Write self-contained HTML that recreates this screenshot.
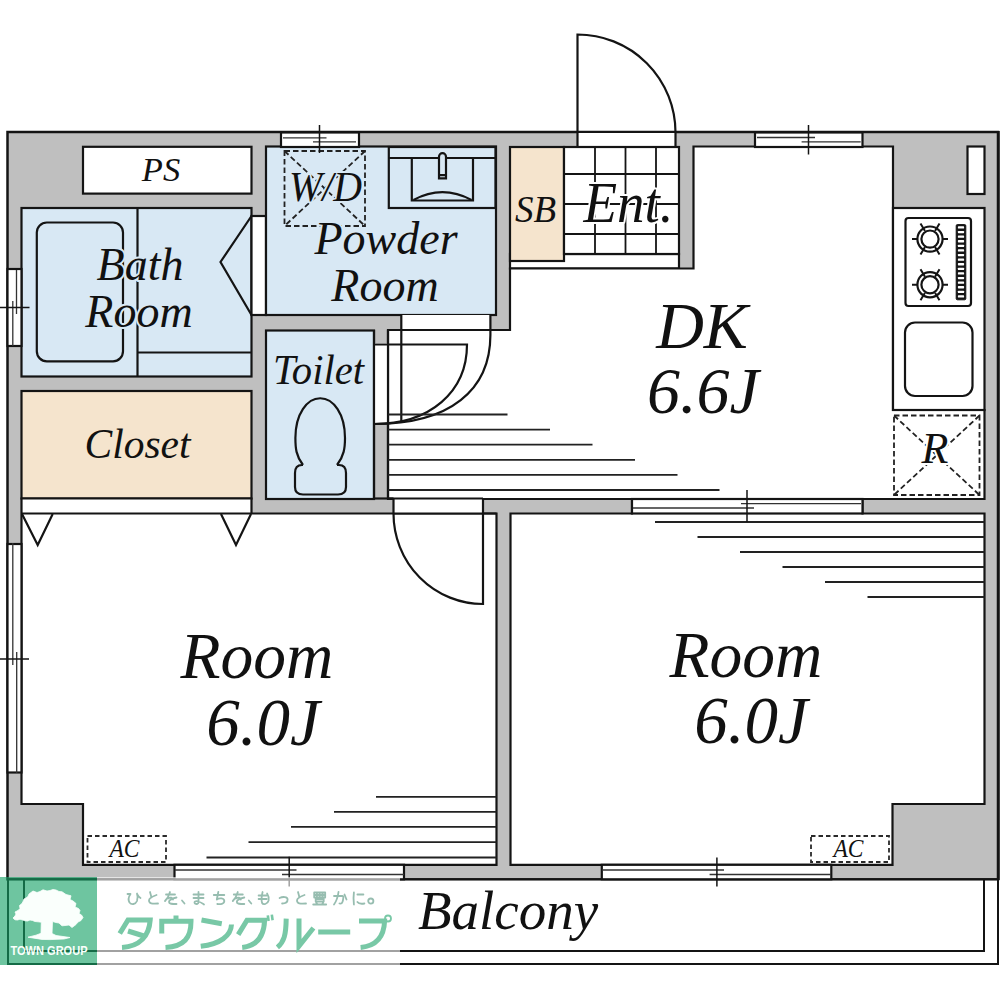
<!DOCTYPE html>
<html><head><meta charset="utf-8">
<style>
html,body{margin:0;padding:0;background:#fff;width:1000px;height:999px;overflow:hidden}
svg{display:block}
text{font-family:"Liberation Serif",serif;font-style:italic;fill:#111}
</style></head><body>
<svg width="1000" height="999" viewBox="0 0 1000 999">
<g id="plan" stroke="#141414" stroke-width="2.2" fill="none" stroke-linejoin="miter">
<!-- outer building -->
<rect x="7.5" y="132" width="990.5" height="747.3" fill="#bfbfbf" stroke-width="2.5"/>
<line x1="998.5" y1="131" x2="998.5" y2="880" stroke-width="2.5"/>
<!-- top door -->
<rect x="577" y="132" width="98" height="15" fill="#fff" stroke="none"/>
<line x1="577" y1="132" x2="675" y2="132"/>
<path d="M577.5 147 V34.5 A98 98 0 0 1 675.5 132.5 V147"/>
<!-- PS -->
<rect x="83" y="146.8" width="168.5" height="46.8" fill="#fff"/>
<!-- Bath -->
<rect x="21.5" y="208" width="230" height="168.5" fill="#d8e8f4"/>
<rect x="36.8" y="222.5" width="86.2" height="138.8" rx="10" fill="none"/>
<line x1="137.5" y1="208" x2="137.5" y2="376.5"/>
<line x1="137.5" y1="352.5" x2="251.5" y2="352.5"/>
<rect x="251.5" y="216" width="14.5" height="99" fill="#fff"/>
<path d="M251.5 216 L220.5 262 L251.5 315"/>
<!-- Closet -->
<rect x="21.5" y="391" width="230" height="107.5" fill="#f5e4cd"/>
<!-- Powder -->
<rect x="266" y="146.5" width="230" height="168.5" fill="#d8e8f4"/>
<rect x="388.8" y="147" width="106.7" height="61"/>
<line x1="388.8" y1="158" x2="495.5" y2="158"/>
<path d="M411.8 158 V200.5 H473 V158"/>
<path d="M413.5 200 Q442.4 184.4 471.5 200"/>
<path d="M439 178.4 V156.7 A3.5 3.5 0 0 1 446 156.7 V178.4 Z M439 175.2 H446" fill="#d8e8f4"/>
<!-- Toilet -->
<rect x="266" y="330.5" width="108" height="168.5" fill="#d8e8f4"/>
<path d="M303 465 C296 456 295.4 448 295.4 438 C295.4 414 307 398.25 320.2 398.25 C333.5 398.25 345 414 345 438 C345 448 344 456 337 465"/>
<path d="M303 465 H302 C297.5 465 295 468 295 473 V487 C295 492 298 494.5 303 494.5 H338 C343 494.5 346 492 346 487 V473 C346 468 343.5 465 339 465 H337"/>
<rect x="510" y="254" width="169" height="14.5" fill="#fff"/>
<!-- SB -->
<rect x="510" y="147" width="54" height="114" fill="#f5e4cd"/>
<!-- Ent tiles -->
<rect x="564" y="147" width="115" height="107" fill="#fff"/>
<path d="M595 147 V254 M625.5 147 V254 M656 147 V254 M564 174 H679 M564 204 H679 M564 234 H679" stroke-width="1.8"/>
<!-- DK -->
<path d="M388 330 H510 V268.5 H693.5 V146.5 H893 V410 H984.5 V499 H388 Z" fill="#fff"/>
<!-- powder/dk door opening -->
<rect x="401" y="315" width="89" height="15" fill="#fff" stroke="none"/>
<rect x="374" y="343" width="14" height="81" fill="#fff" stroke="none"/>
<line x1="388" y1="330" x2="510" y2="330"/>
<line x1="374" y1="330" x2="374" y2="499"/>
<line x1="388" y1="330" x2="388" y2="499"/>
<line x1="401.3" y1="315" x2="401.3" y2="421"/>
<path d="M374 344.5 H467 C467 392 430 424 374 424"/>
<path d="M490.4 315 V335 C490.4 390 450 424 374 424"/>
<!-- Kitchen -->
<rect x="893" y="208" width="91.5" height="202" fill="#fff"/>
<rect x="905.5" y="218" width="65.5" height="88" rx="3"/>
<rect x="956.2" y="224.6" width="9.6" height="75.2" rx="1.2" fill="#141414" stroke-width="1"/>
<g fill="#fff" stroke="none"><rect x="957.9" y="226.30" width="6.2" height="2.3" rx="0.6"/><rect x="957.9" y="230.90" width="6.2" height="2.3" rx="0.6"/><rect x="957.9" y="235.50" width="6.2" height="2.3" rx="0.6"/><rect x="957.9" y="240.10" width="6.2" height="2.3" rx="0.6"/><rect x="957.9" y="244.70" width="6.2" height="2.3" rx="0.6"/><rect x="957.9" y="249.30" width="6.2" height="2.3" rx="0.6"/><rect x="957.9" y="253.90" width="6.2" height="2.3" rx="0.6"/><rect x="957.9" y="258.50" width="6.2" height="2.3" rx="0.6"/><rect x="957.9" y="263.10" width="6.2" height="2.3" rx="0.6"/><rect x="957.9" y="267.70" width="6.2" height="2.3" rx="0.6"/><rect x="957.9" y="272.30" width="6.2" height="2.3" rx="0.6"/><rect x="957.9" y="276.90" width="6.2" height="2.3" rx="0.6"/><rect x="957.9" y="281.50" width="6.2" height="2.3" rx="0.6"/><rect x="957.9" y="286.10" width="6.2" height="2.3" rx="0.6"/><rect x="957.9" y="290.70" width="6.2" height="2.3" rx="0.6"/><rect x="957.9" y="295.30" width="6.2" height="2.3" rx="0.6"/></g>
<g transform="translate(930 239.1)">
<circle r="12.6" stroke-width="2.2"/><circle r="8.6" stroke-width="2.2"/>
<path d="M-18 0 H-12 M12 0 H18 M-5 -8 L-9.5 -15.5 M5 -8 L9.5 -15.5 M-5 8 L-9.5 15.5 M5 8 L9.5 15.5" stroke-width="2"/>
</g>
<g transform="translate(930 284.7)">
<circle r="12.6" stroke-width="2.2"/><circle r="8.6" stroke-width="2.2"/>
<path d="M-18 0 H-12 M12 0 H18 M-5 -8 L-9.5 -15.5 M5 -8 L9.5 -15.5 M-5 8 L-9.5 15.5 M5 8 L9.5 15.5" stroke-width="2"/>
</g>
<rect x="905" y="322.5" width="67.5" height="73.5" rx="10"/>
<rect x="967.5" y="146.5" width="17" height="47.5" fill="#fff"/>
<!-- R box -->
<g stroke-dasharray="5.5 3" stroke-width="1.8" stroke="#222">
<rect x="894" y="415.5" width="85.5" height="79.5"/>
<path d="M894 415.5 L979.5 495 M979.5 415.5 L894 495"/>
<rect x="284.5" y="151" width="80.5" height="75"/>
<path d="M284.5 151 L365 226 M365 151 L284.5 226"/>
</g>
<!-- Rooms lower -->
<path d="M21.5 498.5 H251.5 V513.5 H496.5 V864.8 H83 V804 H21.5 Z" fill="#fff"/>
<line x1="21.5" y1="513.5" x2="251.5" y2="513.5"/>
<path d="M22 514 L37.7 545 L52.7 514 M221 514 L236 545 L251 514"/>
<path d="M510.5 513.5 H632 V499 H862.5 V513.5 H984.5 V804 H892.5 V864.8 H510.5 Z" fill="#fff"/>
<!-- door lower -->
<rect x="393.5" y="498.5" width="89.5" height="15" fill="#fff" stroke="none"/>
<line x1="388" y1="498.5" x2="483" y2="498.5"/>
<path d="M393.5 498.5 V513.5 A89.5 90.5 0 0 0 483 604 V498.5"/>
<line x1="374" y1="498.5" x2="393.5" y2="498.5"/>
<line x1="393.5" y1="513.5" x2="496.5" y2="513.5"/>
<!-- stripes -->
<g stroke-width="1.8" stroke="#222">
<path d="M388 414.5 H507.5 M388 429.6 H550 M388 444.7 H592.5 M388 459.8 H635 M388 474.9 H677.5 M388 490 H719.5"/>
<path d="M655 522 H984.5 M697.5 537 H984.5 M740 552 H984.5 M782.5 567 H984.5 M825 582 H984.5 M867.5 597 H984.5"/>
<path d="M376 796.8 H496.5 M334 811.8 H496.5 M291 826.8 H496.5 M248.5 842.2 H496.5 M206.5 857.5 H496.5"/>
</g>
<!-- windows -->
<g fill="#fff">
<rect x="281" y="132.5" width="78" height="14.5"/>
<rect x="755" y="132.5" width="107.5" height="14.5"/>
<rect x="632" y="499" width="230.5" height="14.5"/>
<rect x="7.5" y="269" width="14" height="77"/>
<rect x="7.5" y="544" width="14" height="228.5"/>
<rect x="174.5" y="864.8" width="229.5" height="14.5"/>
<rect x="601.8" y="864.8" width="229.5" height="14.5"/>
</g>
<g stroke-width="1.3" stroke="#333">
<path d="M283 137.8 H326.5 M313 141.8 H356"/>
<path d="M757 137.5 H815 M801.6 141.8 H860.7"/>
<path d="M741 503.7 H861 M633 508 H754"/>
<path d="M16.5 270 V314 M12.8 301 V346"/>
<path d="M12.8 543 V665 M16.7 652 V773"/>
<path d="M175 870 H296.5 M282 874.5 H404"/>
<path d="M602 870 H724 M709.6 874.5 H831"/>
</g>
<path d="M319.5 125 V153 M808.5 125 V154.4 M747 490 V522 M0 307.5 H29.5 M0 658.9 H29 M289.2 856.7 V886.6 M716.9 857.5 V886.6" stroke-width="1.5"/>
<!-- AC -->
<g stroke-dasharray="4.5 3" stroke-width="1.8" stroke="#2a2a2a">
<rect x="87.5" y="836" width="78.5" height="26"/>
<rect x="811" y="836" width="78" height="26"/>
</g>
<!-- balcony -->
<path d="M8 879.3 V964 H998 V879.3 M24 879.3 V951 H984 V879.3" stroke-width="2"/>
</g>
<g id="labels">
<text x="161" y="181" font-size="34.5" text-anchor="middle" stroke="#ffffff" stroke-width="4" paint-order="stroke" stroke-linejoin="round">PS</text>
<text x="140" y="280" font-size="46" text-anchor="middle" stroke="#d8e8f4" stroke-width="4" paint-order="stroke" stroke-linejoin="round">Bath</text>
<text x="139" y="327" font-size="46" text-anchor="middle" stroke="#d8e8f4" stroke-width="4" paint-order="stroke" stroke-linejoin="round">Room</text>
<text x="137.5" y="458" font-size="41.5" text-anchor="middle" stroke="#f5e4cd" stroke-width="4" paint-order="stroke" stroke-linejoin="round">Closet</text>
<text x="325.5" y="201" font-size="43" textLength="73" lengthAdjust="spacingAndGlyphs" text-anchor="middle" stroke="#d8e8f4" stroke-width="4" paint-order="stroke" stroke-linejoin="round">W/D</text>
<text x="386" y="254" font-size="46" text-anchor="middle" stroke="#d8e8f4" stroke-width="4" paint-order="stroke" stroke-linejoin="round">Powder</text>
<text x="385" y="301" font-size="46" text-anchor="middle" stroke="#d8e8f4" stroke-width="4" paint-order="stroke" stroke-linejoin="round">Room</text>
<text x="318.5" y="383.5" font-size="42.5" textLength="91" lengthAdjust="spacingAndGlyphs" text-anchor="middle" stroke="#d8e8f4" stroke-width="4" paint-order="stroke" stroke-linejoin="round">Toilet</text>
<text x="535.5" y="221.5" font-size="37" text-anchor="middle" stroke="#f5e4cd" stroke-width="4" paint-order="stroke" stroke-linejoin="round">SB</text>
<text x="628.5" y="221.5" font-size="57" textLength="90" lengthAdjust="spacingAndGlyphs" text-anchor="middle" stroke="#ffffff" stroke-width="4" paint-order="stroke" stroke-linejoin="round">Ent.</text>
<text x="702" y="347.5" font-size="66" text-anchor="middle" stroke="#ffffff" stroke-width="4" paint-order="stroke" stroke-linejoin="round">DK</text>
<text x="703" y="413" font-size="66" text-anchor="middle" stroke="#ffffff" stroke-width="4" paint-order="stroke" stroke-linejoin="round">6.6J</text>
<text x="935" y="462.5" font-size="44" text-anchor="middle" stroke="#ffffff" stroke-width="4" paint-order="stroke" stroke-linejoin="round">R</text>
<text x="257" y="678" font-size="65.5" text-anchor="middle" stroke="#ffffff" stroke-width="4" paint-order="stroke" stroke-linejoin="round">Room</text>
<text x="263" y="745" font-size="67" text-anchor="middle" stroke="#ffffff" stroke-width="4" paint-order="stroke" stroke-linejoin="round">6.0J</text>
<text x="746" y="676.5" font-size="65.5" text-anchor="middle" stroke="#ffffff" stroke-width="4" paint-order="stroke" stroke-linejoin="round">Room</text>
<text x="751" y="743" font-size="67" text-anchor="middle" stroke="#ffffff" stroke-width="4" paint-order="stroke" stroke-linejoin="round">6.0J</text>
<text x="124.5" y="856.5" font-size="26" textLength="30" lengthAdjust="spacingAndGlyphs" text-anchor="middle" stroke="#ffffff" stroke-width="4" paint-order="stroke" stroke-linejoin="round">AC</text>
<text x="848.5" y="856.5" font-size="26" textLength="30" lengthAdjust="spacingAndGlyphs" text-anchor="middle" stroke="#ffffff" stroke-width="4" paint-order="stroke" stroke-linejoin="round">AC</text>
<text x="508" y="928.5" font-size="55" text-anchor="middle" stroke="#ffffff" stroke-width="4" paint-order="stroke" stroke-linejoin="round">Balcony</text>
</g>
<!-- logo overlay -->
<rect x="97" y="877" width="303" height="89" fill="#fff" fill-opacity="0.6"/>
<g fill="none" stroke="#97bdb0" stroke-width="1.8" stroke-linecap="round" stroke-linejoin="round">
<path transform="translate(126.5 891)" d="M1 3 H4 C2 6 1.5 9 3 11.5 C5 14 9 13.5 10.5 10 C11.5 7 11 4 10.5 2.5 M10.5 3 C11.5 5 12.5 6 14 7"/>
<path transform="translate(146 891)" d="M4 1 L5.5 6.5 M10.5 4 C6 5.5 3 7 3 9.5 C3 12.5 6 13 12 12.5"/>
<path transform="translate(164 891)" d="M2 3.5 H11 M6 1 C5 4.5 3.5 7.5 1 10 M4 7.5 C6 6 9 6.5 9 8.5 M12.5 6.5 C8 7.5 5 9 5 11 C5 13 8 13 12.5 13"/>
<path transform="translate(181 891)" d="M1 9.5 L3.5 12.5"/>
<path transform="translate(191.5 891)" d="M2 3.5 H12 M2 7 H12 M7 1 V11 C7 13 5 13.5 3.5 12.5 C2 11 4 9.5 7 10.5 C9 11 11 12.5 12.5 13.5"/>
<path transform="translate(212.3 891)" d="M1.5 4 H12 M6 1 L4.5 8.5 C7 6.5 12 7 12 10 C12 13 8 13.5 5 13"/>
<path transform="translate(231.8 891)" d="M2 3.5 H11 M6 1 C5 4.5 3.5 7.5 1 10 M4 7.5 C6 6 9 6.5 9 8.5 M12.5 6.5 C8 7.5 5 9 5 11 C5 13 8 13 12.5 13"/>
<path transform="translate(247.8 891)" d="M1 9.5 L3.5 12.5"/>
<path transform="translate(257.6 891)" d="M5 1 C4 5 3.5 9 4.5 12 C5.5 14 10 13.5 11 9.5 C11.5 6.5 10.5 4 9.5 2.5 M1 4.5 H9 M1 8 H9"/>
<path transform="translate(278.6 891)" d="M1 7 C4 5.5 9 5.5 9 8.5 C9 11.5 6.5 12.5 3.5 12.5"/>
<path transform="translate(294 891)" d="M4 1 L5.5 6.5 M10.5 4 C6 5.5 3 7 3 9.5 C3 12.5 6 13 12 12.5"/>
<path transform="translate(312.2 891)" d="M2 1.5 H13 V6.5 H2 Z M7.5 1.5 V6.5 M4.7 1.5 V6.5 M10.3 1.5 V6.5 M2 4 H13 M3.5 8 H11.5 V10.5 H3.5 Z M4 11.5 L5 13 M11 11.5 L10 13 M1 13.5 H14"/>
<path transform="translate(332.5 891)" d="M1.5 5 H10 C11 5 11 6 10.5 9 C10 12 9 13 7 12.5 M6 1 C5.5 5 4 10 1.5 13.5 M12 3.5 L14 8.5"/>
<path transform="translate(351.4 891)" d="M2.5 1.5 C2 5 2 9 2.5 13.5 M6 3.5 H12 M6 11 C7 12.5 10 13 13 12.5"/>
<path transform="translate(366.8 891)" d="M4 7.5 A2.6 2.6 0 1 1 4 12.7 A2.6 2.6 0 1 1 4 7.5"/>
</g>
<g fill="none" stroke="#78c8a6" stroke-width="5" stroke-linecap="butt" stroke-linejoin="miter">
<path d="M119.75 933.5 L128 920 H150.2 C149 936 140 946.5 122 947.5"/>
<path d="M128 931 L145.5 936.5"/>
<path d="M176 915.5 V921.2 M161.75 933.5 V921.2 H191 C191 938 184 946.5 165.5 947.5"/>
<path d="M201.5 920 L221.75 923.75 M200.75 946.25 C220 944 231 936 231.5 924.5"/>
<path d="M238.2 934.6 L247 920.2 H264.6 C264 937 256 946 242.2 947.4"/>
<path d="M267.8 915.4 L268.6 921 M271.8 914.6 L272.6 920.2" stroke-width="2.6"/>
<path d="M286.2 918.6 C286 935 284 942 277.4 947.4 M299 918.6 V946 L313.4 928"/>
<path d="M318.2 931.9 H350.2"/>
<path d="M359 921 H384.6 C384 937 376 946 360.6 947.4"/>
<circle cx="388" cy="918.5" r="3" stroke-width="1.8"/>
</g>
<rect x="0" y="877" width="97" height="88" fill="#15a165" fill-opacity="0.62"/>
<g fill="#fafffc">
<path stroke="#fafffc" stroke-width="0.8" stroke-linejoin="round" d="M29 894 L33 891 L37 892.5 L40 891.5 L43 889.8 L47 891 L50 890.5 L53 889.5 L56 890 L59 891.5 L62 891.8 L66 894.5 L71 895.8 L70 899.5 L73 901 L76 903.5 L75 907 L78.5 908.5 L80 910.5 L79 913.5 L81.5 915 L83 917.5 L81 920.5 L78 922 L76 924.5 L72 927.5 L69 925 L65 925.5 L62 925.8 L59 923 L56 922.5 L52.5 921.5 L52 933.5 L56 935.5 L70 937.5 L64 939 L50 939.6 L42 939.4 L28 937.2 L36 935.2 L41 933.3 L41.3 922.2 L38 921.8 L35 921.5 L32.5 920.5 L30 920 L27.5 921 L25 920.8 L22 919.8 L20 919.2 L17.5 920 L15 919.8 L13 918 L15 916 L16 914 L15 912 L18 910.5 L20 908.5 L19.5 905.5 L22 903.5 L23 901.5 L24 899 L26 898 L28 896.5 Z"/>
<text x="49" y="955" font-family="Liberation Sans, sans-serif" font-weight="bold" font-size="12.5" text-anchor="middle" textLength="77" lengthAdjust="spacingAndGlyphs" style="font-family:'Liberation Sans',sans-serif;font-style:normal;fill:#fafffc">TOWN GROUP</text>
</g>
</svg>
</body></html>
